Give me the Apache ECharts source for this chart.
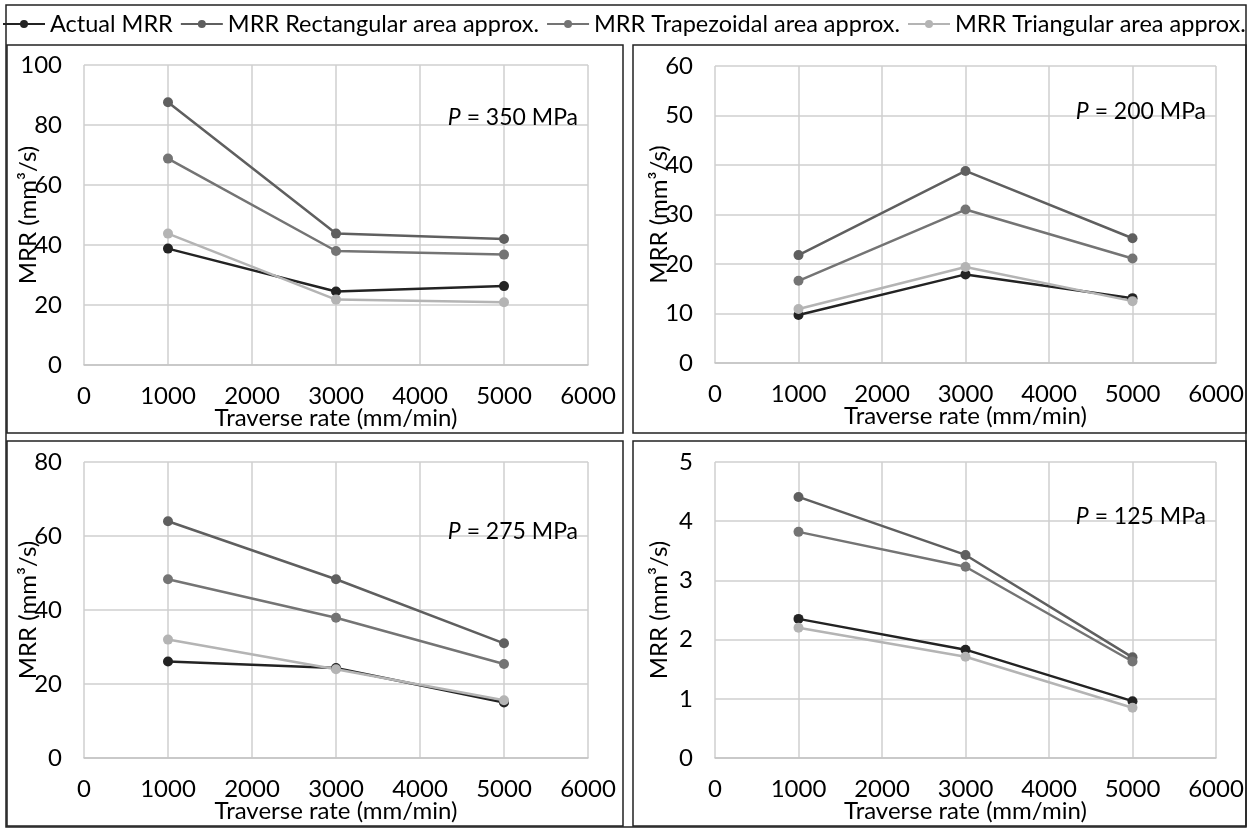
<!DOCTYPE html>
<html>
<head>
<meta charset="utf-8">
<script src="https://cdn.jsdelivr.net/npm/echarts@6/dist/echarts.min.js"></script>
<style>
  html, body { margin: 0; padding: 0; background: #fff; }
  #chart { width: 1251px; height: 830px; }
</style>
</head>
<body>
<div id="chart"></div>
<script>
// traverse rates (mm/min)
var traverseRates = [1000, 3000, 5000];
var seriesNames = ['Actual MRR', 'MRR Rectangular area approx.', 'MRR Trapezoidal area approx.', 'MRR Triangular area approx.'];
var seriesColors = ['#232323', '#5f5f5f', '#747474', '#b4b4b4'];

// P = 350 MPa
var actual350 = [38.8, 24.5, 26.3];
var rect350 = [87.6, 43.8, 42.0];
var trap350 = [68.8, 38.0, 36.8];
var tri350 = [43.8, 21.8, 20.9];
// P = 200 MPa
var actual200 = [9.7, 17.9, 13.1];
var rect200 = [21.8, 38.8, 25.2];
var trap200 = [16.6, 31.0, 21.1];
var tri200 = [10.9, 19.4, 12.5];
// P = 275 MPa
var actual275 = [26.1, 24.3, 15.0];
var rect275 = [64.0, 48.3, 31.0];
var trap275 = [48.3, 37.9, 25.4];
var tri275 = [32.0, 24.0, 15.6];
// P = 125 MPa
var actual125 = [2.35, 1.83, 0.96];
var rect125 = [4.41, 3.43, 1.70];
var trap125 = [3.82, 3.23, 1.63];
var tri125 = [2.20, 1.71, 0.85];

var pressureLabels = ['350', '200', '275', '125'];
var yMax = [100, 60, 80, 5];
var yStep = [20, 10, 20, 1];

var panelData = [
  [actual350, rect350, trap350, tri350],
  [actual200, rect200, trap200, tri200],
  [actual275, rect275, trap275, tri275],
  [actual125, rect125, trap125, tri125]
];

var FONT = 'Lato';

// plot areas [left, top, width, height]
var grids = [
  [84, 65, 504, 300],
  [715, 66, 501, 297],
  [84, 462, 504, 296],
  [715, 462, 501, 296]
];
// panel frames [x, y, w, h]
var frames = [
  [7, 45, 616, 388],
  [633, 45, 613, 388],
  [7, 441, 616, 385],
  [633, 441, 613, 385]
];
// vertical offset of the P label below the plot top
var labelDy = [53, 46, 70, 55];

var chart = echarts.init(document.getElementById('chart'));

var gridOpt = [], xAxes = [], yAxes = [], series = [], graphics = [];

grids.forEach(function (g, k) {
  gridOpt.push({
    left: g[0], top: g[1], width: g[2], height: g[3],
    containLabel: false, outerBoundsMode: 'none'
  });
  xAxes.push({
    type: 'value', gridIndex: k, min: 0, max: 6000, interval: 1000,
    name: 'Traverse rate (mm/min)', nameLocation: 'middle', nameGap: 41,
    nameMoveOverlap: false,
    nameTextStyle: { fontFamily: FONT, fontSize: 24, color: '#000' },
    axisLine: { show: true, lineStyle: { color: '#c4c4c4', width: 1.5 } },
    axisTick: { show: false },
    axisLabel: {
      fontFamily: FONT, fontSize: 24, color: '#000', margin: 19,
      formatter: function (v) { return String(v); }
    },
    splitLine: { show: true, lineStyle: { color: '#cfcfcf', width: 1.5 } }
  });
  yAxes.push({
    type: 'value', gridIndex: k, min: 0, max: yMax[k], interval: yStep[k],
    name: 'MRR (mm³/s)', nameLocation: 'middle', nameGap: 44,
    nameMoveOverlap: false,
    nameTextStyle: { fontFamily: FONT, fontSize: 24, color: '#000' },
    axisLine: { show: false },
    axisTick: { show: false },
    axisLabel: { fontFamily: FONT, fontSize: 24, color: '#000', margin: 22 },
    splitLine: { show: true, lineStyle: { color: '#cfcfcf', width: 1.5 } }
  });
  panelData[k].forEach(function (vals, s) {
    series.push({
      name: seriesNames[s], type: 'line', xAxisIndex: k, yAxisIndex: k,
      data: traverseRates.map(function (x, i) { return [x, vals[i]]; }),
      symbol: 'circle', symbolSize: 10,
      lineStyle: { color: seriesColors[s], width: 2.5 },
      itemStyle: { color: seriesColors[s] },
      animation: false
    });
  });
  var f = frames[k];
  graphics.push({
    type: 'rect', shape: { x: f[0], y: f[1], width: f[2], height: f[3] },
    style: { fill: 'none', stroke: '#222', lineWidth: 1.5 }, silent: true
  });
  graphics.push({
    type: 'text', x: g[0] + g[2] - 10, y: g[1] + labelDy[k], z: 100,
    style: {
      text: '{i|P} = ' + pressureLabels[k] + ' MPa',
      rich: { i: { fontStyle: 'italic', fontFamily: FONT, fontSize: 23, fill: '#000' } },
      font: '23px ' + FONT, fill: '#000', align: 'right', verticalAlign: 'middle'
    },
    silent: true
  });
});

// outer frame
graphics.push({
  type: 'rect', shape: { x: 6, y: 5, width: 1240, height: 822 },
  style: { fill: 'none', stroke: '#222', lineWidth: 1.5 }, silent: true
});

chart.setOption({
  animation: false,
  legend: {
    data: seriesNames, left: 2, top: 12, padding: 0,
    itemWidth: 42, itemHeight: 10, itemGap: 7,
    textStyle: { fontFamily: FONT, fontSize: 23.5, color: '#000' }
  },
  grid: gridOpt,
  xAxis: xAxes,
  yAxis: yAxes,
  series: series,
  graphic: graphics
});
</script>
</body>
</html>
